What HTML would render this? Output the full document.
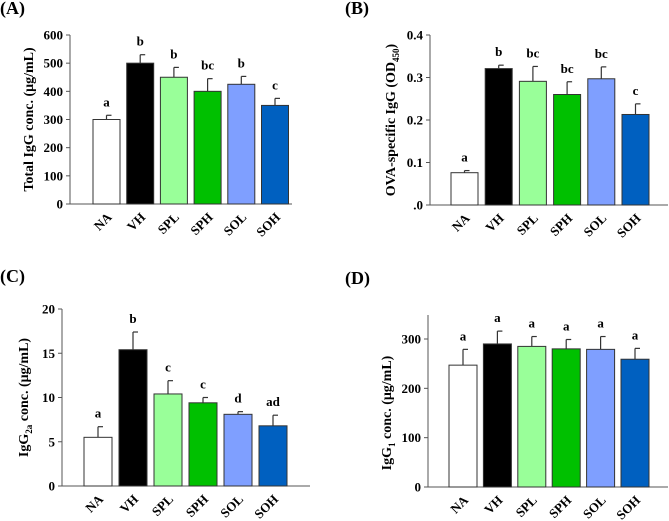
<!DOCTYPE html>
<html><head><meta charset="utf-8"><style>
html,body{margin:0;padding:0;background:#fff;width:669px;height:521px;overflow:hidden}
svg text{font-family:"Liberation Serif","Times New Roman",Times,serif;font-weight:bold;fill:#000}
</style></head><body>
<svg id="c" width="669" height="521" xmlns="http://www.w3.org/2000/svg" font-family="Liberation Serif, Times New Roman, serif" font-weight="bold"></svg>
<script>
const categories=["NA","VH","SPL","SPH","SOL","SOH"];
const colors=["#ffffff","#000000","#99ff99","#00c000","#7f9fff","#0060c0"];
const valuesA=[300,500,450,400,425,350];
const errorsA=[15,30,35,45,28,25];
const lettersA=["a","b","b","bc","b","c"];
const ticksA=["0","100","200","300","400","500","600"];
const valuesB=[0.076,0.321,0.291,0.26,0.297,0.213];
const errorsB=[0.005,0.008,0.035,0.03,0.028,0.025];
const lettersB=["a","b","bc","bc","bc","c"];
const ticksB=["0","0.1","0.2","0.3","0.4"];
const valuesC=[5.5,15.4,10.4,9.4,8.1,6.8];
const errorsC=[1.2,2.0,1.5,0.6,0.3,1.2];
const lettersC=["a","b","c","c","d","ad"];
const ticksC=["0","5","10","15","20"];
const valuesD=[247,290,285,280,279,259];
const errorsD=[32,26,20,19,26,22];
const lettersD=["a","a","a","a","a","a"];
const ticksD=["0","100","200","300"];
const NS="http://www.w3.org/2000/svg";
const svg=document.getElementById('c');
function mk(tag,attrs,parent,txt){const e=document.createElementNS(NS,tag);for(const k in attrs)e.setAttribute(k,attrs[k]);if(txt!==undefined)e.textContent=txt;parent.appendChild(e);return e;}
function panel(cfg){
  const g=mk('g',{},svg);
  
  
  const y=v=>cfg.y0-(v-0)/(cfg.max)*(cfg.y0-cfg.yTop);
  const t=mk('text',{x:cfg.lx,y:cfg.ly,'font-size':18},g,'('+cfg.id.toUpperCase()+')');
  
  
  const ax=mk('line',{x1:cfg.ax,x2:cfg.ax,y1:cfg.axTop,y2:cfg.y0,stroke:'#555','stroke-width':1},g);
  
  
  const xa=mk('line',{x1:cfg.ax,x2:cfg.axEnd,y1:cfg.y0,y2:cfg.y0,stroke:'#555','stroke-width':1},g);
  
  
  cfg.ticks.forEach(tk=>{
    const v=parseFloat(tk), yy=y(v);
    mk('line',{x1:cfg.ax-4,x2:cfg.ax,y1:yy,y2:yy,stroke:'#555'},g);
    const lab=mk('text',{x:cfg.ax-7,y:yy+4.5,'font-size':13,'text-anchor':'end'},g,(cfg.id==='b'&&tk==='0')?'.0':tk);
    
    
  });
  const tt=mk('text',{transform:`translate(${cfg.tx},${(cfg.y0+cfg.yTop)/2}) rotate(-90)`,'font-size':14,'text-anchor':'middle'},g);
  tt.innerHTML=cfg.title;
  
  
  categories.forEach((c,i)=>{
    const x0=cfg.b0+i*cfg.step, w=cfg.bw, v=cfg.vals[i], e=cfg.errs[i];
    const top=y(v), et=y(v+e), cx=x0+w/2;
    const el=mk('line',{x1:cx,x2:cx,y1:top,y2:et,stroke:'#333','stroke-width':1.2},g);
    
    
    mk('line',{x1:cx,x2:cx+5,y1:et,y2:et,stroke:'#333','stroke-width':1.2},g);
    const r=mk('rect',{x:x0,y:top,width:w,height:cfg.y0-top,fill:colors[i],stroke:'#333','stroke-width':1},g);
    
    
    const lt=mk('text',{x:cx,y:et-9,'font-size':13,'text-anchor':'middle'},g,cfg.letters[i]);
    
    
    const xl=mk('text',{transform:`translate(${cx+6},${cfg.y0+14}) rotate(-45)`,'font-size':13,'text-anchor':'end'},g,c);
    
    
  });
}
panel({id:'a',lx:0,ly:14,ax:70,axTop:35,axEnd:292,y0:204,yTop:35,max:600,ticks:ticksA,vals:valuesA,errs:errorsA,letters:lettersA,b0:93,step:33.7,bw:27,tx:33,title:'Total IgG conc. (μg/mL)'});
panel({id:'b',lx:345,ly:14,ax:430,axTop:35,axEnd:668,y0:205,yTop:35,max:0.4,ticks:ticksB,vals:valuesB,errs:errorsB,letters:lettersB,b0:451,step:34.2,bw:27,tx:395,title:'OVA-specific IgG (OD<tspan font-size="9" dy="4">450</tspan><tspan dy="-4">)</tspan>'});
panel({id:'c',lx:0,ly:282,ax:62,axTop:309,axEnd:310,y0:486,yTop:309,max:20,ticks:ticksC,vals:valuesC,errs:errorsC,letters:lettersC,b0:84,step:35,bw:28,tx:28,title:'IgG<tspan font-size="9" dy="4">2a</tspan><tspan dy="-4"> conc. (μg/mL)</tspan>'});
panel({id:'d',lx:345,ly:284,ax:428,axTop:315,axEnd:668,y0:487,yTop:339,max:300,ticks:ticksD,vals:valuesD,errs:errorsD,letters:lettersD,b0:449,step:34.4,bw:28,tx:391,title:'IgG<tspan font-size="9" dy="4">1</tspan><tspan dy="-4"> conc. (μg/mL)</tspan>'});
</script>
</body></html>
